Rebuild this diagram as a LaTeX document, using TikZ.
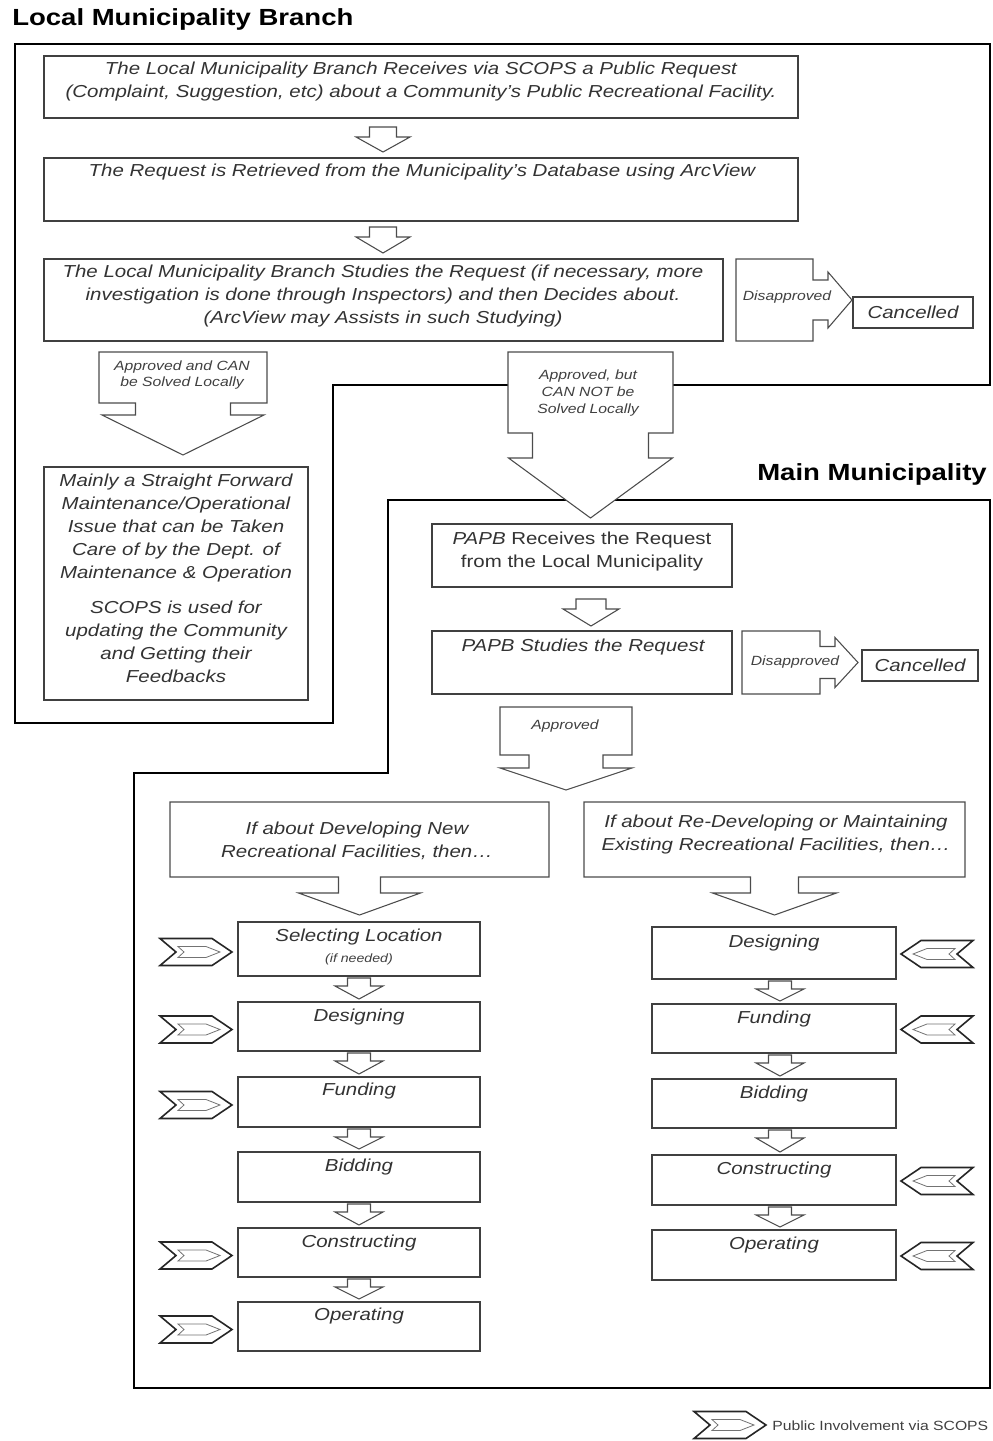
\documentclass[tikz,border=0pt]{standalone}
\usepackage{fontspec}
\setmainfont{Liberation Sans}[FakeStretch=1.18]
\usetikzlibrary{calc}

% rectangle node from pixel corners: [style]{name}{x1}{y1}{x2}{y2}
\newcommand\rectnode[6][stepbox]{%
  \node[#1, minimum width={(#5-#3)*0.75pt}, minimum height={(#6-#4)*0.75pt}]
    (#2) at ({(#3+#5)/2},{(#4+#6)/2}) {};}

% box with a downward block arrow: {body}{target}{stem half}{stem length}{head half}{tip gap}
\newcommand\calloutdown[6]{%
  \coordinate (#1tip) at ($(#1.south |- #2.north)+(0,-#6)$);
  \draw[arrowline] (#1.north west) -- (#1.north east) -- (#1.south east)
    -- ($(#1.south)+(#3,0)$) -- ($(#1.south)+(#3,#4)$) -- ($(#1.south)+(#5,#4)$)
    -- (#1tip)
    -- ($(#1.south)+(-#5,#4)$) -- ($(#1.south)+(-#3,#4)$) -- ($(#1.south)+(-#3,0)$)
    -- (#1.south west) -- cycle;}

% box with a block arrow to the right: {body}{target}{stem half}{stem length}{head half}{tip gap}
\newcommand\calloutright[6]{%
  \coordinate (#1tip) at ($(#2.west |- #1.east)+(-#6,0)$);
  \draw[arrowline] (#1.north west) -- (#1.north east) -- ($(#1.east)+(0,-#3)$)
    -- ($(#1.east)+(#4,-#3)$) -- ($(#1.east)+(#4,-#5)$) -- (#1tip)
    -- ($(#1.east)+(#4,#5)$) -- ($(#1.east)+(#4,#3)$) -- ($(#1.east)+(0,#3)$)
    -- (#1.south east) -- (#1.south west) -- cycle;}

% plain block arrow between two boxes:
% {name}{x}{upper}{lower}{stem half}{stem length}{head half}{top gap}{tip gap}
\newcommand\stepdown[9]{%
  \coordinate (#1x) at (#2,0);
  \coordinate (#1a) at ($(#1x |- #3.south)+(0,#8)$);
  \coordinate (#1b) at ($(#1x |- #4.north)+(0,-#9)$);
  \draw[arrowline] ($(#1a)+(-#5,0)$) -- ($(#1a)+(#5,0)$) -- ($(#1a)+(#5,#6)$)
    -- ($(#1a)+(#7,#6)$) -- (#1b) -- ($(#1a)+(-#7,#6)$) -- ($(#1a)+(-#5,#6)$) -- cycle;}

\begin{document}
\begin{tikzpicture}[x=0.75pt,y=-0.75pt,
  frame/.style={line width=1.8pt, draw=black, line join=miter},
  stepbox/.style={draw=black!75, line width=0.9pt, fill=white, inner sep=0pt, outer sep=0pt},
  ghost/.style={inner sep=0pt, outer sep=0pt},
  arrowline/.style={draw=black!70, line width=0.8pt, fill=white, line join=miter},
  txt/.style={font=\fontsize{13}{17.25}\selectfont\itshape, text=black!80, align=center, inner sep=0pt},
  txtup/.style={font=\fontsize{13}{17.25}\selectfont, text=black!80, align=center, inner sep=0pt},
  lbl/.style={font=\fontsize{10}{12.5}\selectfont\itshape, text=black!75, align=center, inner sep=0pt},
  tiny/.style={font=\fontsize{9}{11}\selectfont\itshape, text=black!75, inner sep=0pt},
  heading/.style={font=\fontsize{17.5}{20}\selectfont\bfseries, text=black, inner sep=0pt},
  pubin/.pic={
    \draw[line width=1.2pt, draw=black!85, fill=white, line join=miter]
      (-36,-13.5) -- (16,-13.5) -- (36,0) -- (16,13.5) -- (-36,13.5) -- (-20,0) -- cycle;
    \draw[line width=0.6pt, draw=black!55]
      (-18,-5.5) -- (10,-5.5) -- (24,0) -- (10,5.5) -- (-18,5.5) -- (-12,0) -- cycle;
  }]
\useasboundingbox (0,0) rectangle (992,1441);

% ---- region frames ----
\draw[frame] (15,44) -- (990,44) -- (990,385) -- (333,385) -- (333,723) -- (15,723) -- cycle;
\draw[frame] (388,500) -- (990,500) -- (990,1388) -- (134,1388) -- (134,773) -- (388,773) -- cycle;

\node[heading, anchor=west] (ttlL) at (12,19) {Local Municipality Branch};
\node[heading, anchor=east] (ttlM) at (987,474) {Main Municipality};

% ---- local branch ----
\rectnode{b1}{44}{56}{798}{118}
\rectnode{b2}{44}{158}{798}{221}
\rectnode{b3}{44}{259}{723}{341}
\rectnode{can1}{853}{297}{973}{328}
\rectnode{mainly}{44}{467}{308}{700}
\rectnode[ghost]{cA}{736}{259}{813}{341}
\rectnode[ghost]{cB}{99}{352}{267}{403}

\stepdown{s1}{383}{b1}{b2}{13.5}{10}{27}{9}{6}
\stepdown{s2}{383}{b2}{b3}{13.5}{10}{27}{6}{6}
\calloutright{cA}{can1}{20}{15}{28}{1}
\calloutdown{cB}{mainly}{47.5}{12}{81}{12}

\node[txt] (t1) at (421,81.5) {The Local Municipality Branch Receives via SCOPS a Public Request\\(Complaint, Suggestion, etc) about a Community's Public Recreational Facility.};
\node[txt] (t2) at (422,172) {The Request is Retrieved from the Municipality's Database using ArcView};
\node[txt] (t3) at (383,296.5) {The Local Municipality Branch Studies the Request (if necessary, more\\investigation is done through Inspectors) and then Decides about.\\(ArcView may Assists in such Studying)};
\node[lbl] (lA) at (787,297) {Disapproved};
\node[txt] (tc1) at (can1) {Cancelled};
\node[lbl] (lB) at (182,375) {Approved and CAN\\be Solved Locally};
\node[txt] (tm1) at (176,528) {Mainly a Straight Forward\\Maintenance/Operational\\Issue that can be Taken\\Care of by the Dept. of\\Maintenance \& Operation};
\node[txt] (tm2) at (176,642) {SCOPS is used for\\updating the Community\\and Getting their\\Feedbacks};

% ---- main municipality ----
\rectnode{papb1}{432}{524}{732}{587}
\rectnode{papb2}{432}{631}{732}{694}
\rectnode{can2}{862}{650}{978}{681}
\rectnode[ghost]{cC}{508}{352}{673}{433}
\rectnode[ghost]{cD}{742}{631}{820}{694}
\rectnode[ghost]{cE}{500}{707}{632}{755}
\rectnode[ghost]{ifL}{170}{802}{549}{877}
\rectnode[ghost]{ifR}{584}{802}{965}{877}

% steps, new facilities
\rectnode{sL1}{238}{922}{480}{976}
\rectnode{sL2}{238}{1002}{480}{1051}
\rectnode{sL3}{238}{1077}{480}{1127}
\rectnode{sL4}{238}{1152}{480}{1202}
\rectnode{sL5}{238}{1228}{480}{1277}
\rectnode{sL6}{238}{1302}{480}{1351}
% steps, existing facilities
\rectnode{sR1}{652}{927}{896}{979}
\rectnode{sR2}{652}{1004}{896}{1053}
\rectnode{sR3}{652}{1079}{896}{1128}
\rectnode{sR4}{652}{1155}{896}{1205}
\rectnode{sR5}{652}{1230}{896}{1280}

\calloutdown{cC}{papb1}{58}{25}{82}{6}
\stepdown{s3}{591}{papb1}{papb2}{15}{10}{28}{12}{5}
\calloutright{cD}{can2}{16}{15}{25}{4}
\calloutdown{cE}{ifL}{37}{13}{66}{12}
\calloutdown{ifL}{sL1}{21}{16}{61}{7}
\calloutdown{ifR}{sR1}{24}{16}{62}{12}

\stepdown{l1}{359}{sL1}{sL2}{11.5}{8}{24}{2}{3}
\stepdown{l2}{359}{sL2}{sL3}{11.5}{8}{24}{2}{3}
\stepdown{l3}{359}{sL3}{sL4}{11.5}{8}{24}{2}{3}
\stepdown{l4}{359}{sL4}{sL5}{11.5}{8}{24}{2}{3}
\stepdown{l5}{359}{sL5}{sL6}{11.5}{8}{24}{2}{3}
\stepdown{r1}{780}{sR1}{sR2}{11.5}{8}{24}{2}{3}
\stepdown{r2}{780}{sR2}{sR3}{11.5}{8}{24}{2}{3}
\stepdown{r3}{780}{sR3}{sR4}{11.5}{8}{24}{2}{3}
\stepdown{r4}{780}{sR4}{sR5}{11.5}{8}{24}{2}{3}

\node[lbl] (lC) at (588,393) {Approved, but\\CAN NOT be\\Solved Locally};
\node[txtup] (tp1) at (582,551.5) {\textit{PAPB} Receives the Request\\from the Local Municipality};
\node[txt] (tp2) at (583,647) {PAPB Studies the Request};
\node[lbl] (lD) at (795,662) {Disapproved};
\node[txt] (tc2) at (can2) {Cancelled};
\node[lbl] (lE) at (565,726) {Approved};
\node[txt] (tiL) at (357,840.5) {If about Developing New\\Recreational Facilities, then…};
\node[txt] (tiR) at (776,834.5) {If about Re-Developing or Maintaining\\Existing Recreational Facilities, then…};

\node[txt] (tl1) at (359,937) {Selecting Location};
\node[tiny] (tl1b) at (359,959) {(if needed)};
\node[txt] (tl2) at (359,1017) {Designing};
\node[txt] (tl3) at (359,1091) {Funding};
\node[txt] (tl4) at (359,1167) {Bidding};
\node[txt] (tl5) at (359,1243) {Constructing};
\node[txt] (tl6) at (359,1316) {Operating};
\node[txt] (tr1) at (774,943) {Designing};
\node[txt] (tr2) at (774,1019) {Funding};
\node[txt] (tr3) at (774,1094) {Bidding};
\node[txt] (tr4) at (774,1170) {Constructing};
\node[txt] (tr5) at (774,1245) {Operating};

% ---- public involvement markers ----
\foreach \b in {sL1,sL2,sL3,sL5,sL6}
  \pic at ($(\b.west)+(-42,3)$) {pubin};
\foreach \b in {sR1,sR2,sR4,sR5}
  \pic[xscale=-1] at ($(\b.east)+(41,1)$) {pubin};

% ---- legend ----
\pic at (730,1425) {pubin};
\node[font=\fontsize{10}{12}\selectfont, text=black!75, anchor=west, inner sep=0pt] (leg) at (772,1426) {Public Involvement via SCOPS};
\end{tikzpicture}
\end{document}
